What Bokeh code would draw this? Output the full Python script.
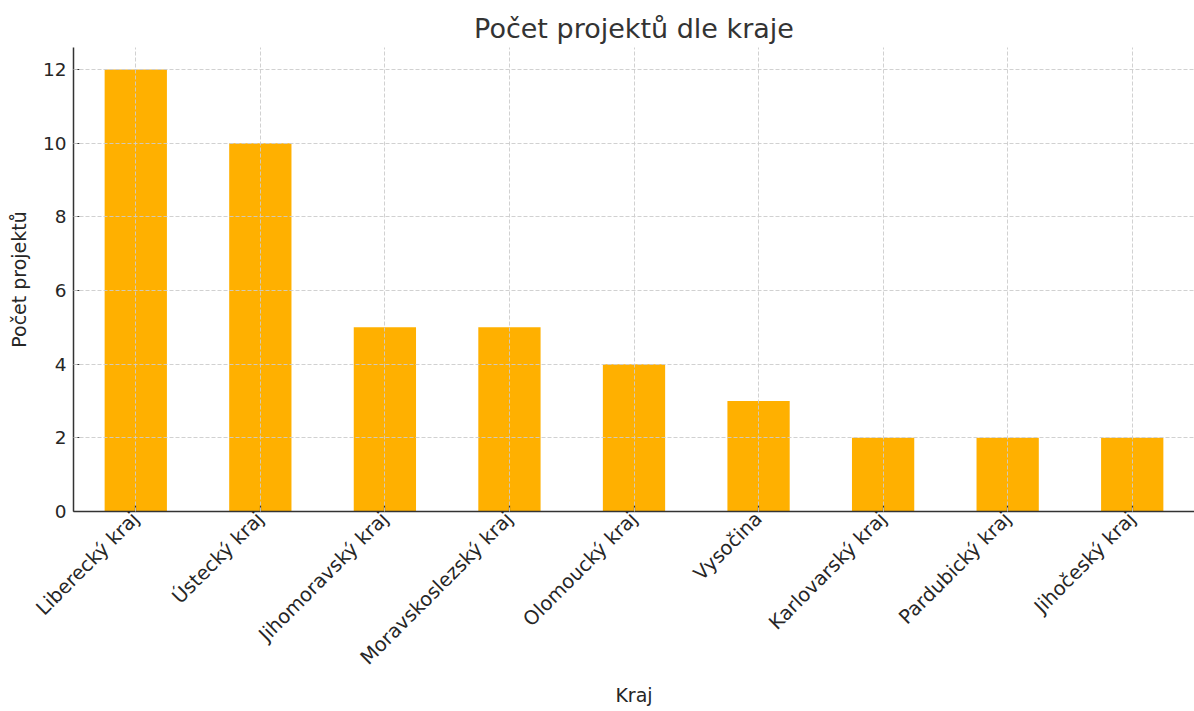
import math
from bokeh.plotting import figure
from bokeh.models import Range1d, FixedTicker, ColumnDataSource
from bokeh.embed import file_html
from bokeh.resources import INLINE

kraje = ["Liberecký kraj", "Ústecký kraj", "Jihomoravský kraj", "Moravskoslezský kraj",
         "Olomoucký kraj", "Vysočina", "Karlovarský kraj", "Pardubický kraj", "Jihočeský kraj"]
pocty = [12, 10, 5, 5, 4, 3, 2, 2, 2]
y_ticks = [0, 2, 4, 6, 8, 10, 12]

FONT = "DejaVu Sans"
TXT = "#333333"

src = ColumnDataSource(dict(kraj=kraje, pocet=pocty))

p = figure(x_range=kraje, y_range=Range1d(0, 12.6), width=1194, height=711,
           output_backend="svg", toolbar_location=None,
           title="Počet projektů dle kraje",
           min_border_left=73, min_border_right=0, min_border_top=47, min_border_bottom=200)

p.vbar(x="kraj", top="pocet", width=0.5, source=src, color="#FFB000", line_color=None)

p.title.align = "center"
p.title.text_font = FONT
p.title.text_font_size = "27px"
p.title.text_font_style = "normal"
p.title.text_color = TXT
p.title.offset = 0
p.title.standoff = 8

p.outline_line_color = None
p.background_fill_color = "white"
p.border_fill_color = "white"

for ax in (p.xaxis[0], p.yaxis[0]):
    ax.axis_line_color = "#333333"
    ax.axis_line_width = 1.5
    ax.major_tick_line_color = "#333333"
    ax.major_tick_line_width = 1.2
    ax.major_tick_in = 6
    ax.major_tick_out = 0
    ax.minor_tick_line_color = None
    ax.major_label_text_font = FONT
    ax.major_label_text_font_size = "18.5px"
    ax.major_label_text_color = "#262626"
    ax.axis_label_text_font = FONT
    ax.axis_label_text_font_size = "19px"
    ax.axis_label_text_font_style = "normal"
    ax.axis_label_text_color = "#262626"

p.xaxis.major_label_text_font_size = "19.5px"
p.xaxis.axis_label = "Kraj"
p.yaxis.axis_label = "Počet projektů"
p.xaxis.major_label_orientation = math.pi / 4
p.xaxis.major_label_standoff = 4
p.xaxis.axis_label_standoff = 4
p.yaxis.major_label_standoff = 7
p.yaxis.axis_label_standoff = 10
p.yaxis.ticker = FixedTicker(ticks=y_ticks)

for g in (p.xgrid[0], p.ygrid[0]):
    g.grid_line_color = "#cccccc"
    g.grid_line_dash = "4 2"
    g.grid_line_width = 1
    g.grid_line_alpha = 0.9
    g.level = "overlay"

open("out.html", "w").write(file_html(p, INLINE))
